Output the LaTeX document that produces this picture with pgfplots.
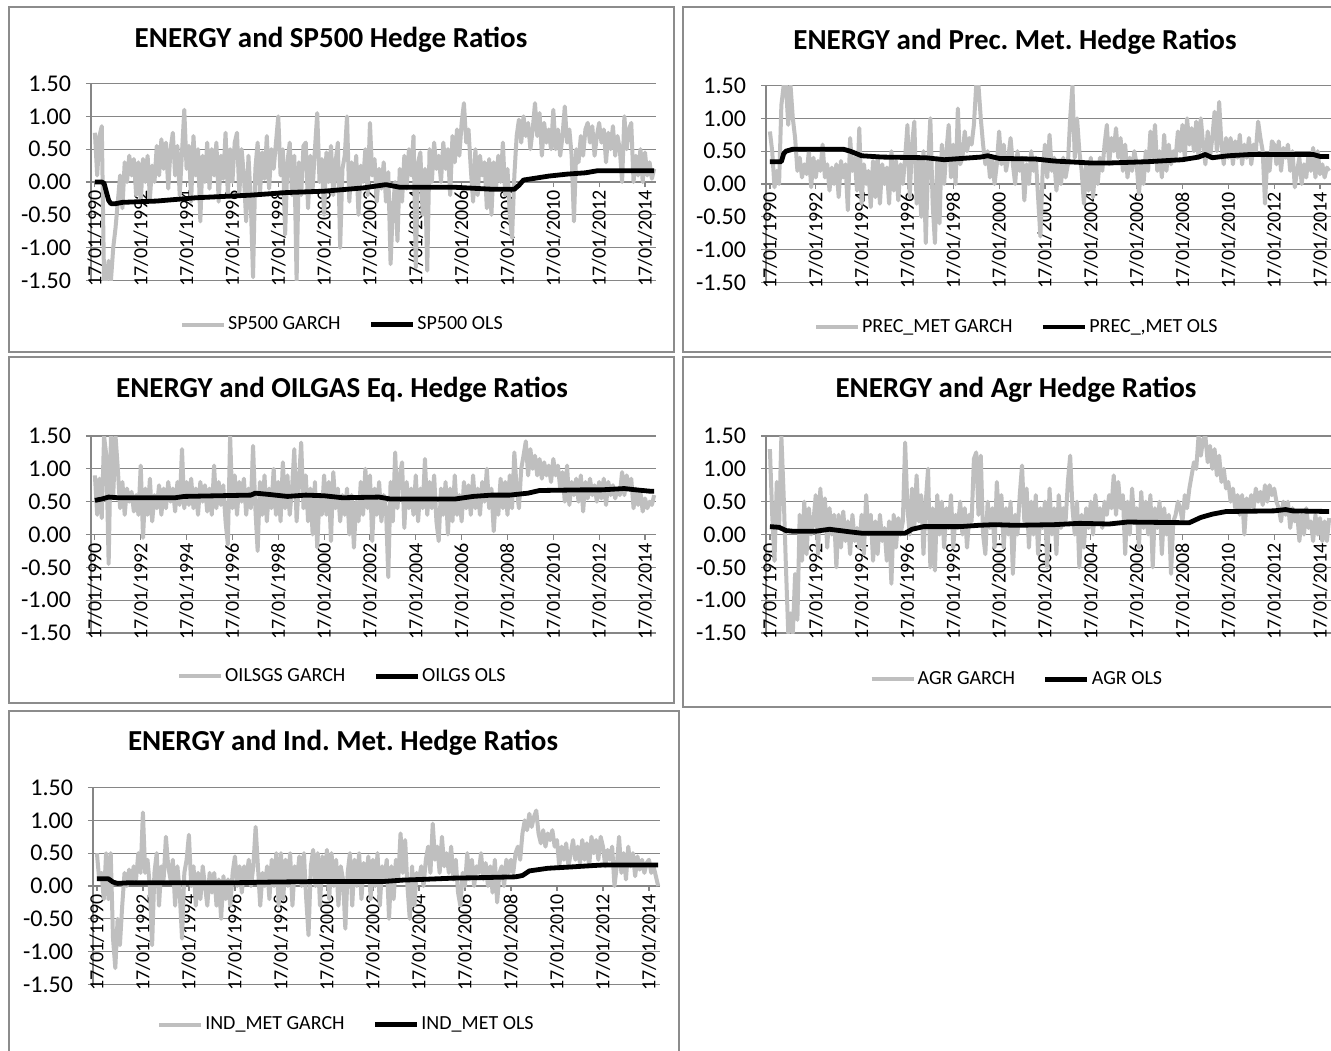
\documentclass[border=0pt]{standalone}
\usepackage{fontspec}
\setmainfont{Carlito}
\usepackage{pgfplots}
\usepackage{pgfplotstable}
\pgfplotsset{compat=1.18}
\definecolor{garchc}{RGB}{191,191,191}
\definecolor{gridc}{RGB}{134,134,134}
\definecolor{boxc}{RGB}{140,140,140}
\pgfplotsset{
 hedge/.style={
  scale only axis, width=282.5pt, height=98.5pt,
  xmin=-1.7, xmax=244.8, ymin=-1.5, ymax=1.5,
  axis x line*=middle, axis y line*=left,
  hide obscured x ticks=false, hide obscured y ticks=false,
  axis line style={gridc, line width=0.6pt},
  ymajorgrids, grid style={gridc, line width=0.6pt},
  xtick={0,20,...,240},
  xticklabels={17/01/1990,17/01/1992,17/01/1994,17/01/1996,17/01/1998,17/01/2000,17/01/2002,17/01/2004,17/01/2006,17/01/2008,17/01/2010,17/01/2012,17/01/2014},
  ytick={-1.5,-1,-0.5,0,0.5,1,1.5},
  yticklabels={-1.50,-1.00,-0.50,0.00,0.50,1.00,1.50},
  tick align=outside, major tick length=2.5pt,
  tick style={gridc, line width=0.6pt},
  x tick label style={rotate=90, anchor=east, font=\fontsize{10}{12}\selectfont, inner sep=1.5pt},
  y tick label style={font=\fontsize{12}{14}\selectfont, xshift=-4pt},
  legend columns=2,
  legend style={draw=none, fill=none, font=\fontsize{10}{12}\selectfont, anchor=center,
    nodes={inner xsep=1pt},
    /tikz/every even column/.append style={column sep=13pt}},
  legend image code/.code={\draw[##1] (0pt,0pt) -- (21pt,0pt);},
 },
 garch/.style={garchc, line width=2.0pt, line join=round},
 ols/.style={black, line width=2.4pt, line join=round},
}
\begin{document}
\frenchspacing
% SP500 GARCH, 10 values per year from 1990
\pgfplotstableread[header=false,row sep=\\]{
0.75\\0.10\\0.70\\0.85\\-1.50\\-1.50\\-1.20\\-1.50\\-1.00\\-0.70\\
-0.30\\0.10\\-0.40\\0.30\\0.00\\0.40\\0.10\\0.35\\-0.20\\0.30\\
-0.30\\0.35\\0.00\\0.40\\-0.25\\0.25\\0.00\\0.55\\0.10\\0.65\\
0.20\\0.60\\-0.10\\0.50\\0.75\\0.10\\0.55\\-0.20\\0.45\\1.10\\
0.20\\0.55\\-0.30\\0.70\\0.10\\0.50\\-0.60\\0.40\\0.00\\0.60\\
-0.10\\0.50\\0.10\\0.60\\-0.30\\0.40\\0.05\\0.75\\-0.20\\0.50\\
0.00\\0.60\\0.75\\-0.20\\0.50\\0.10\\-0.60\\0.40\\-0.30\\-1.45\\
0.20\\0.60\\-0.20\\0.45\\0.05\\0.70\\-0.10\\0.50\\0.20\\0.60\\
1.00\\0.10\\0.50\\-0.80\\0.30\\0.60\\-0.20\\0.40\\-1.50\\0.30\\
-0.20\\0.55\\0.60\\-0.40\\0.40\\-0.10\\0.50\\1.05\\0.00\\0.35\\
-0.50\\0.45\\0.00\\0.55\\-0.20\\0.30\\0.60\\-1.00\\0.20\\0.40\\
1.00\\-0.30\\0.30\\-0.10\\0.40\\-0.50\\0.25\\0.00\\0.50\\-0.20\\
0.90\\0.10\\0.35\\-0.30\\0.20\\-0.10\\0.30\\-0.30\\0.15\\-1.25\\
-0.40\\0.00\\-0.90\\0.20\\-0.30\\0.40\\-0.10\\0.50\\0.10\\0.70\\
-1.30\\0.30\\0.45\\-0.50\\0.20\\-1.35\\0.50\\0.00\\0.60\\0.20\\
0.40\\0.00\\0.60\\0.20\\0.50\\-0.20\\0.70\\0.30\\0.80\\0.40\\
0.90\\1.20\\0.60\\0.80\\0.20\\-0.30\\0.50\\-0.20\\0.40\\0.10\\
0.30\\-0.40\\0.35\\-0.50\\0.30\\-0.10\\0.40\\0.00\\0.60\\-0.20\\
0.20\\-0.50\\-0.85\\0.10\\0.70\\0.95\\0.60\\1.00\\0.70\\0.90\\
0.50\\0.80\\1.20\\0.70\\1.05\\0.40\\0.90\\0.60\\0.80\\0.50\\
1.10\\0.50\\0.80\\0.40\\0.70\\1.15\\0.60\\0.80\\0.40\\-0.60\\
0.50\\0.30\\0.70\\0.40\\0.80\\0.90\\0.60\\0.85\\0.40\\0.70\\
0.90\\0.60\\0.80\\0.30\\0.75\\0.50\\0.85\\0.40\\0.70\\0.50\\
0.00\\1.00\\0.50\\0.80\\0.90\\0.00\\0.40\\0.10\\0.50\\0.00\\
0.45\\0.10\\0.30\\0.05\\0.20\\
}\tA
% PREC_MET GARCH
\pgfplotstableread[header=false,row sep=\\]{
0.80\\0.50\\-0.05\\0.20\\0.00\\1.20\\1.50\\1.50\\0.90\\1.50\\
1.00\\0.70\\0.20\\0.40\\0.10\\0.30\\0.15\\0.50\\-0.05\\0.40\\
0.10\\0.35\\0.20\\0.60\\0.10\\0.30\\-0.10\\0.25\\0.00\\0.30\\
-0.20\\0.35\\0.10\\0.30\\-0.40\\0.70\\0.20\\0.40\\-0.10\\0.85\\
-0.30\\0.30\\0.00\\0.20\\-0.35\\0.35\\-0.20\\0.40\\-0.30\\0.30\\
0.00\\0.25\\-0.30\\0.50\\-0.10\\0.35\\-0.25\\0.30\\0.00\\0.40\\
0.90\\-0.20\\0.60\\0.95\\-0.30\\0.40\\-0.50\\0.50\\-0.90\\0.30\\
1.00\\-0.30\\-0.90\\0.40\\-0.60\\0.60\\0.00\\0.50\\0.90\\0.10\\
0.60\\0.00\\1.15\\0.30\\0.40\\0.80\\0.50\\0.70\\0.60\\0.90\\
1.50\\1.50\\1.00\\0.60\\0.30\\0.50\\0.10\\0.40\\0.00\\0.30\\
0.80\\0.30\\0.60\\0.20\\0.40\\0.70\\0.30\\0.00\\0.50\\0.20\\
0.40\\-0.25\\0.30\\0.00\\0.50\\0.20\\0.40\\-0.20\\-0.80\\0.20\\
0.60\\0.10\\0.75\\0.20\\0.40\\-0.10\\0.30\\0.00\\0.40\\0.10\\
0.30\\1.00\\1.50\\0.40\\1.00\\0.50\\0.20\\-0.30\\0.30\\-0.10\\
0.40\\-0.20\\0.30\\0.00\\0.40\\0.20\\0.60\\0.90\\0.30\\0.70\\
0.50\\0.85\\0.40\\0.70\\0.20\\0.60\\0.10\\0.40\\0.20\\0.50\\
0.30\\-0.15\\0.30\\0.00\\0.50\\0.20\\0.80\\0.40\\0.90\\0.20\\
0.50\\0.10\\0.75\\0.20\\0.60\\0.30\\0.50\\0.40\\0.80\\0.50\\
0.90\\0.40\\1.00\\0.60\\0.85\\0.50\\0.95\\0.40\\1.00\\0.60\\
0.30\\0.80\\0.40\\0.70\\1.10\\0.50\\1.25\\0.60\\0.30\\0.70\\
0.40\\0.70\\0.30\\0.65\\0.40\\0.75\\0.30\\0.60\\0.40\\0.70\\
0.30\\0.60\\0.50\\0.95\\0.70\\0.50\\-0.30\\0.40\\0.20\\0.65\\
0.60\\0.30\\0.65\\0.20\\0.55\\0.40\\0.60\\0.20\\0.50\\-0.05\\
0.20\\0.40\\0.00\\0.30\\0.10\\0.45\\0.20\\0.55\\0.10\\0.50\\
0.15\\0.30\\0.10\\0.25\\0.20\\
}\tB
% OILSGS GARCH
\pgfplotstableread[header=false,row sep=\\]{
0.90\\0.30\\0.85\\0.25\\1.50\\1.20\\-0.45\\1.50\\0.60\\1.50\\
1.00\\0.40\\0.80\\0.30\\0.70\\0.50\\0.65\\0.35\\0.60\\0.30\\
1.05\\-0.05\\0.70\\0.30\\0.85\\0.20\\0.60\\0.40\\0.75\\0.30\\
0.70\\0.40\\0.80\\0.50\\0.70\\0.35\\0.80\\0.45\\1.30\\0.40\\
0.80\\0.45\\0.85\\0.40\\0.70\\0.30\\0.80\\0.50\\0.75\\0.35\\
0.70\\0.30\\1.05\\0.40\\0.80\\0.45\\0.75\\0.20\\-0.15\\1.50\\
0.40\\0.90\\0.30\\0.80\\0.50\\0.85\\0.30\\0.70\\0.40\\1.35\\
0.40\\-0.25\\0.80\\0.30\\0.90\\0.20\\0.70\\0.40\\1.00\\0.30\\
0.80\\0.20\\1.10\\0.40\\0.90\\0.30\\0.70\\1.30\\0.20\\0.80\\
1.40\\0.40\\0.90\\0.20\\0.70\\0.00\\0.80\\-0.20\\0.60\\0.30\\
0.90\\0.30\\0.80\\-0.10\\0.95\\0.40\\0.70\\0.20\\0.60\\0.30\\
0.70\\0.00\\0.60\\-0.20\\0.50\\0.20\\0.80\\0.30\\1.00\\0.40\\
0.90\\-0.10\\0.70\\0.30\\0.80\\0.20\\0.60\\0.40\\-0.65\\0.80\\
0.20\\1.25\\0.40\\0.90\\1.10\\0.10\\0.80\\0.40\\0.70\\0.30\\
0.90\\0.20\\0.70\\0.40\\1.15\\0.30\\0.80\\0.40\\0.90\\0.20\\
-0.10\\0.70\\0.30\\0.80\\0.00\\0.70\\0.20\\0.90\\0.30\\0.60\\
0.20\\0.80\\0.40\\0.75\\0.30\\0.90\\0.40\\0.70\\0.30\\0.80\\
0.50\\1.00\\0.40\\0.70\\0.05\\0.60\\0.30\\0.85\\0.40\\0.80\\
0.30\\0.90\\0.40\\1.25\\0.70\\0.40\\1.00\\1.20\\1.42\\0.90\\
1.30\\1.00\\1.20\\0.90\\1.15\\0.85\\1.10\\0.90\\1.05\\0.80\\
1.15\\0.90\\1.05\\0.70\\0.95\\0.50\\1.05\\0.45\\0.80\\0.60\\
0.85\\0.50\\0.90\\0.35\\0.80\\0.55\\0.85\\0.60\\0.75\\0.50\\
0.80\\0.55\\0.85\\0.45\\0.80\\0.60\\0.75\\0.55\\0.70\\0.60\\
0.95\\0.60\\0.90\\0.70\\0.85\\0.40\\0.70\\0.45\\0.65\\0.35\\
0.55\\0.40\\0.50\\0.45\\0.60\\
}\tC
% AGR GARCH
\pgfplotstableread[header=false,row sep=\\]{
1.30\\0.30\\-0.40\\0.80\\0.10\\1.50\\0.60\\-0.50\\-1.50\\-1.20\\
-1.50\\-0.60\\-1.30\\0.30\\-0.40\\0.50\\-0.30\\0.40\\0.00\\0.20\\
0.60\\-0.30\\0.70\\0.10\\0.55\\-0.20\\0.40\\0.00\\0.30\\-0.50\\
0.30\\-0.20\\0.35\\-0.10\\0.20\\-0.30\\0.30\\-0.10\\0.10\\-0.20\\
0.30\\-0.30\\0.60\\0.00\\0.30\\-0.40\\0.20\\-0.30\\0.30\\-0.10\\
0.10\\-0.40\\0.20\\-0.75\\0.30\\-0.20\\0.25\\0.00\\0.20\\1.40\\
0.40\\0.00\\0.70\\0.10\\0.90\\0.20\\0.60\\-0.30\\0.50\\1.00\\
-0.50\\0.40\\-0.55\\0.60\\0.00\\0.50\\-0.20\\0.40\\0.10\\0.60\\
-0.20\\0.30\\0.10\\0.50\\0.00\\0.40\\-0.20\\0.30\\0.20\\1.15\\
1.25\\0.30\\1.20\\0.00\\-0.30\\0.50\\0.10\\0.40\\-0.20\\0.80\\
0.20\\0.60\\-0.20\\0.40\\0.00\\0.50\\-0.60\\0.30\\0.00\\0.60\\
1.05\\0.20\\0.70\\-0.20\\0.50\\0.00\\0.60\\-0.30\\0.40\\0.10\\
0.50\\-0.50\\0.70\\0.00\\0.40\\-0.30\\0.60\\0.10\\0.40\\0.20\\
0.80\\1.20\\0.40\\0.00\\0.50\\-0.50\\0.30\\-0.20\\0.40\\0.10\\
0.50\\0.00\\0.60\\0.20\\0.40\\0.10\\0.50\\0.30\\0.60\\0.40\\
0.90\\0.30\\0.80\\0.40\\0.60\\-0.30\\0.50\\0.00\\0.70\\0.20\\
0.40\\-0.20\\0.65\\0.10\\0.50\\0.00\\0.60\\-0.50\\0.40\\0.10\\
0.50\\-0.30\\0.40\\0.00\\0.30\\-0.60\\0.20\\0.30\\0.50\\0.40\\
0.20\\0.60\\0.40\\0.70\\0.90\\1.10\\1.00\\1.50\\1.20\\1.45\\
1.50\\1.10\\1.35\\1.00\\1.30\\0.90\\1.20\\0.80\\1.00\\0.70\\
0.80\\0.50\\0.70\\0.40\\0.60\\0.30\\0.60\\0.00\\0.55\\0.40\\
0.60\\0.40\\0.70\\0.50\\0.65\\0.45\\0.75\\0.50\\0.75\\0.60\\
0.70\\0.50\\0.40\\0.20\\0.50\\0.30\\0.50\\0.10\\0.40\\0.20\\
0.35\\-0.10\\0.30\\0.00\\0.40\\0.10\\0.20\\-0.10\\0.30\\0.00\\
0.25\\-0.10\\0.20\\-0.10\\0.25\\
}\tD
% IND_MET GARCH
\pgfplotstableread[header=false,row sep=\\]{
0.50\\0.10\\0.20\\-0.20\\0.50\\-0.20\\0.50\\-0.80\\-1.25\\-0.50\\
-0.90\\-0.30\\0.20\\0.00\\0.25\\0.05\\0.30\\0.10\\0.50\\0.20\\
1.12\\0.20\\0.40\\0.00\\-0.90\\0.20\\0.50\\-0.30\\0.30\\0.10\\
0.75\\0.30\\0.10\\0.40\\-0.30\\0.30\\-0.10\\-0.80\\0.20\\0.40\\
0.78\\0.00\\0.30\\-0.30\\0.20\\-0.20\\0.30\\0.00\\-0.30\\0.20\\
-0.10\\0.20\\-0.30\\0.10\\-0.50\\0.15\\-0.20\\0.10\\-0.30\\0.20\\
0.45\\0.00\\0.30\\-0.10\\0.30\\0.10\\0.40\\0.00\\0.30\\0.90\\
0.30\\-0.30\\0.20\\0.00\\0.30\\-0.20\\0.40\\0.00\\0.50\\-0.30\\
0.50\\-0.20\\0.40\\0.00\\0.50\\-0.30\\0.30\\0.10\\0.45\\0.00\\
0.50\\-0.20\\-0.75\\0.30\\0.55\\0.00\\0.50\\-0.30\\0.45\\0.10\\
0.55\\-0.20\\0.50\\0.00\\0.40\\-0.30\\0.30\\0.10\\-0.65\\0.20\\
0.50\\-0.30\\0.40\\0.00\\0.50\\-0.20\\0.35\\0.10\\0.45\\-0.20\\
0.40\\0.00\\0.50\\-0.30\\0.30\\0.10\\0.40\\-0.50\\0.30\\-0.20\\
0.40\\0.10\\0.80\\0.20\\0.70\\0.00\\-0.50\\0.30\\-0.30\\0.20\\
0.10\\0.30\\0.00\\0.40\\0.60\\0.20\\0.95\\0.40\\0.60\\0.20\\
0.75\\0.30\\0.50\\0.20\\0.60\\0.10\\0.40\\-0.10\\-0.30\\0.20\\
0.00\\0.50\\0.10\\0.40\\0.00\\0.30\\0.20\\0.50\\0.10\\0.35\\
0.00\\0.30\\-0.10\\0.40\\-0.25\\0.20\\0.30\\0.00\\0.40\\0.20\\
0.40\\0.20\\0.50\\0.60\\0.40\\0.80\\1.00\\0.85\\1.10\\0.90\\
1.05\\1.15\\0.80\\0.65\\0.85\\0.60\\0.80\\0.70\\0.85\\0.60\\
0.70\\0.30\\0.60\\0.40\\0.65\\0.30\\0.50\\0.70\\0.40\\0.60\\
0.35\\0.70\\0.40\\0.65\\0.30\\0.75\\0.50\\0.70\\0.40\\0.75\\
0.60\\0.30\\0.55\\0.40\\0.60\\0.00\\0.30\\0.75\\0.20\\0.50\\
0.10\\0.60\\0.30\\0.50\\0.15\\0.45\\0.25\\0.40\\0.20\\0.35\\
0.40\\0.20\\0.30\\0.15\\0.00\\
}\tE
\begin{tikzpicture}
\fill[white] (0,0) rectangle (665.5pt,-525pt);
\draw[boxc, line width=0.6pt] (4.5pt,-3.5pt) rectangle (337pt,-176pt);
\draw[boxc, line width=0.6pt] (666pt,-3.5pt) -- (341.5pt,-3.5pt) -- (341.5pt,-176pt) -- (666pt,-176pt);
\draw[boxc, line width=0.6pt] (4.5pt,-178.5pt) rectangle (337pt,-351.5pt);
\draw[boxc, line width=0.6pt] (666pt,-178.5pt) -- (341.5pt,-178.5pt) -- (341.5pt,-353.5pt) -- (666pt,-353.5pt);
\draw[boxc, line width=0.6pt] (4.5pt,-526pt) -- (4.5pt,-355.5pt) -- (339.5pt,-355.5pt) -- (339.5pt,-526pt);
\tikzset{ttl/.style={font=\bfseries\fontsize{14.5}{17}\selectfont}}
\node[ttl] at (165.5pt,-20pt) {ENERGY and SP500 Hedge Ratios};
\node[ttl] at (507.5pt,-21pt) {ENERGY and Prec. Met. Hedge Ratios};
\node[ttl] at (171pt,-195pt) {ENERGY and OILGAS Eq. Hedge Ratios};
\node[ttl] at (508pt,-195pt) {ENERGY and Agr Hedge Ratios};
\node[ttl] at (171.5pt,-371.5pt) {ENERGY and Ind. Met. Hedge Ratios};
% Panel 1
\begin{axis}[hedge, at={(45.5pt,-140.25pt)}, anchor=south west, legend style={at={(0.445,-0.225)}}]
\addplot[garch] table[x expr=\coordindex, y index=0]{\tA};
\addlegendentry{SP500 GARCH}
\addplot[ols] coordinates {(0,0.00) (3,0.00) (4,-0.02) (5,-0.15) (6,-0.28) (7,-0.33) (9,-0.33) (12,-0.31) (27,-0.29) (44,-0.24) (68,-0.20) (84,-0.16) (100,-0.14) (117,-0.09) (127,-0.04) (133,-0.08) (157,-0.08) (173,-0.11) (183,-0.11) (185,-0.05) (187,0.03) (198,0.09) (206,0.12) (214,0.14) (219,0.17) (244,0.17)};
\addlegendentry{SP500 OLS}
\end{axis}
% Panel 2
\begin{axis}[hedge, at={(383pt,-141.25pt)}, anchor=south west, legend style={at={(0.444,-0.226)}}]
\addplot[garch] table[x expr=\coordindex, y index=0]{\tB};
\addlegendentry{PREC\_MET GARCH}
\addplot[ols] coordinates {(0,0.34) (5,0.34) (6,0.46) (7,0.50) (10,0.53) (32,0.53) (35,0.50) (40,0.43) (49,0.41) (68,0.40) (76,0.37) (92,0.41) (95,0.43) (100,0.39) (116,0.38) (124,0.35) (140,0.32) (148,0.32) (165,0.34) (180,0.37) (187,0.41) (190,0.45) (193,0.40) (200,0.43) (210,0.45) (237,0.45) (240,0.42) (244,0.42)};
\addlegendentry{PREC\_,MET OLS}
\end{axis}
% Panel 3
\begin{axis}[hedge, at={(45.5pt,-316.5pt)}, anchor=south west, legend style={at={(0.445,-0.22)}}]
\addplot[garch] table[x expr=\coordindex, y index=0]{\tC};
\addlegendentry{OILSGS GARCH}
\addplot[ols] coordinates {(0,0.52) (3,0.54) (6,0.57) (10,0.56) (35,0.56) (39,0.58) (68,0.60) (70,0.63) (76,0.61) (84,0.58) (92,0.60) (100,0.59) (108,0.56) (124,0.57) (129,0.54) (157,0.54) (165,0.58) (173,0.60) (181,0.60) (189,0.63) (194,0.67) (213,0.68) (221,0.68) (231,0.70) (236,0.68) (242,0.66) (244,0.66)};
\addlegendentry{OILGS OLS}
\end{axis}
% Panel 4
\begin{axis}[hedge, at={(383pt,-316.5pt)}, anchor=south west, legend style={at={(0.444,-0.235)}}]
\addplot[garch] table[x expr=\coordindex, y index=0]{\tD};
\addlegendentry{AGR GARCH}
\addplot[ols] coordinates {(0,0.12) (4,0.11) (7,0.06) (10,0.05) (20,0.05) (26,0.08) (35,0.04) (40,0.02) (59,0.02) (62,0.08) (67,0.12) (83,0.12) (91,0.14) (98,0.15) (107,0.14) (124,0.15) (135,0.17) (148,0.16) (156,0.19) (180,0.18) (183,0.18) (188,0.26) (193,0.31) (199,0.35) (220,0.36) (225,0.38) (228,0.36) (244,0.35)};
\addlegendentry{AGR OLS}
\end{axis}
% Panel 5
\begin{axis}[hedge, width=283.5pt, at={(46.5pt,-492.25pt)}, anchor=south west, legend style={at={(0.447,-0.203)}}]
\addplot[garch] table[x expr=\coordindex, y index=0]{\tE};
\addlegendentry{IND\_MET GARCH}
\addplot[ols] coordinates {(0,0.11) (5,0.11) (7,0.06) (9,0.04) (14,0.05) (60,0.05) (76,0.06) (100,0.07) (125,0.07) (133,0.09) (141,0.10) (155,0.12) (170,0.13) (182,0.14) (185,0.16) (188,0.23) (196,0.27) (206,0.29) (215,0.31) (220,0.32) (244,0.32)};
\addlegendentry{IND\_MET OLS}
\end{axis}
\pgfresetboundingbox
\path[use as bounding box] (0,0) rectangle (665.5pt,-525pt);
\end{tikzpicture}
\end{document}
